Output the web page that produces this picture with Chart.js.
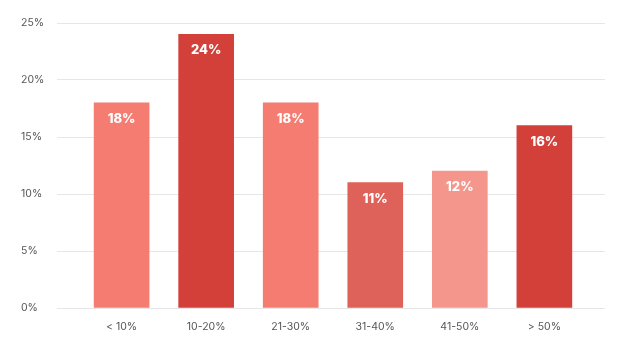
<!DOCTYPE html>
<html>
<head>
<meta charset="utf-8">
<script src="https://cdn.jsdelivr.net/npm/chart.js@4.4.0/dist/chart.umd.min.js"></script>
<style>
  html, body { margin: 0; padding: 0; background: #fff; }
  #wrap { width: 628px; height: 338px; }
</style>
</head>
<body>
<div id="wrap"><canvas id="myChart"></canvas></div>
<script>
// datos del gráfico
const categories = ['< 10%', '10-20%', '21-30%', '31-40%', '41-50%', '> 50%'];
const values = [18, 24, 18, 11, 12, 16];
const barColors = ['#F47C71', '#D3403A', '#F47C71', '#DF625A', '#F4968B', '#D3403A'];
const yTicks = [0, 5, 10, 15, 20, 25];

// etiquetas blancas dentro de las barras
const barLabels = {
    id: 'barLabels',
    afterDatasetsDraw(chart) {
        const ctx = chart.ctx;
        const meta = chart.getDatasetMeta(0);
        ctx.save();
        ctx.fillStyle = '#ffffff';
        ctx.font = '800 13px Inter';
        ctx.textAlign = 'center';
        ctx.textBaseline = 'middle';
        meta.data.forEach((bar, i) => {
            ctx.fillText(values[i] + '%', bar.x, bar.y + 16);
        });
        ctx.restore();
    }
};

document.addEventListener("DOMContentLoaded", function () {
    var ctx = document.getElementById('myChart').getContext('2d');
    var myChart = new Chart(ctx, {
        type: 'bar',
        data: {
            datasets: [{
                data: categories.map((c, i) => ({ x: i, y: values[i] })),
                backgroundColor: barColors,
                borderWidth: 0,
                barThickness: 55
            }]
        },
        options: {
            responsive: true,
            maintainAspectRatio: false,
            animation: false,
            layout: { padding: { left: 21, right: 23, top: 23, bottom: 0 } },
            plugins: {
                legend: { display: false },
                tooltip: { enabled: false }
            },
            scales: {
                x: {
                    type: 'linear',
                    offset: false,
                    min: -0.764,
                    max: 5.717,
                    grid: { display: false, drawTicks: false, offset: false },
                    border: { display: false },
                    ticks: {
                        stepSize: 1,
                        autoSkip: false,
                        maxRotation: 0,
                        padding: 13,
                        color: '#555',
                        font: { family: 'Inter', size: 10.5 },
                        callback: v => (Number.isInteger(v) && categories[v]) ? categories[v] : ''
                    },
                    afterFit: scale => { scale.height = 30; }
                },
                y: {
                    min: 0,
                    max: 25,
                    afterBuildTicks: scale => { scale.ticks = yTicks.map(v => ({ value: v })); },
                    grid: { color: '#e6e6e6', lineWidth: 1, drawTicks: false },
                    border: { display: false },
                    ticks: {
                        crossAlign: 'far',
                        padding: 0,
                        color: '#555',
                        font: { family: 'Inter', size: 10.5 },
                        callback: v => v + '%'
                    },
                    afterFit: scale => { scale.width = 36; }
                }
            }
        },
        plugins: [barLabels]
    });
});
</script>
</body>
</html>
